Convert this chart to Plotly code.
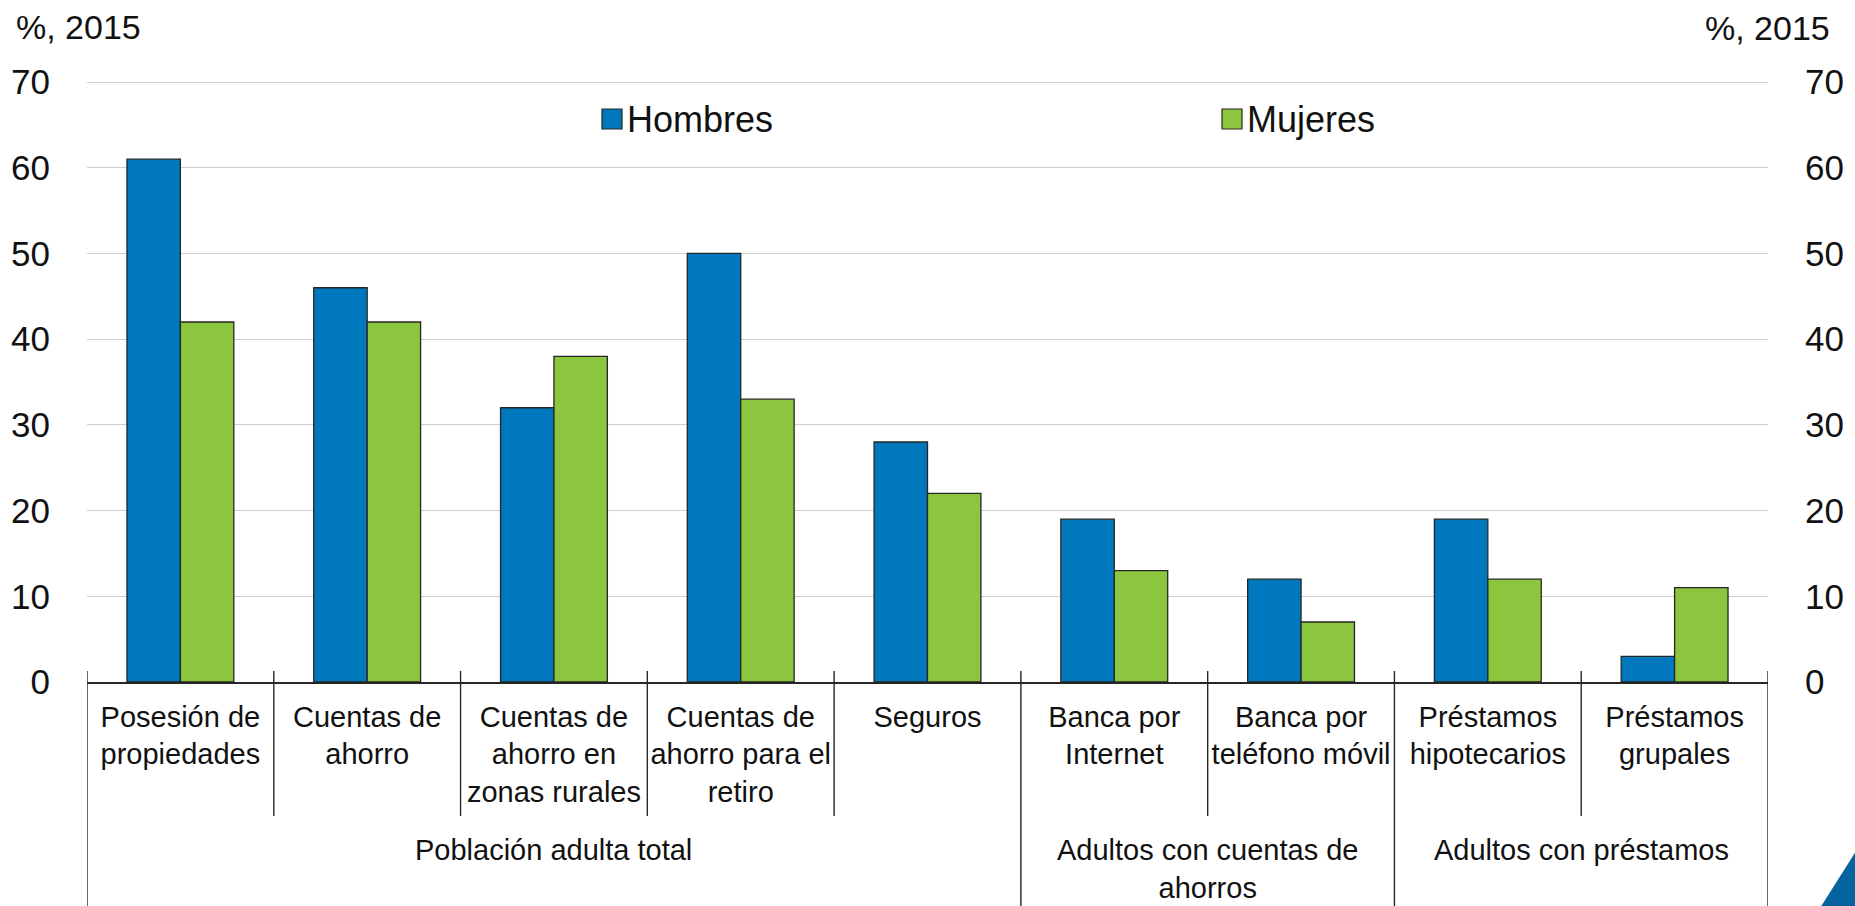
import plotly.graph_objects as go

# ---------------- data ----------------
categories = ["Posesión de propiedades", "Cuentas de ahorro",
              "Cuentas de ahorro en zonas rurales",
              "Cuentas de ahorro para el retiro", "Seguros",
              "Banca por Internet", "Banca por teléfono móvil",
              "Préstamos hipotecarios", "Préstamos grupales"]
tick_labels = ["Posesión de<br>propiedades", "Cuentas de<br>ahorro",
               "Cuentas de<br>ahorro en<br>zonas rurales",
               "Cuentas de<br>ahorro para el<br>retiro", "Seguros",
               "Banca por<br>Internet", "Banca por<br>teléfono móvil",
               "Préstamos<br>hipotecarios", "Préstamos<br>grupales"]
hombres = [61, 46, 32, 50, 28, 19, 12, 19, 3]
mujeres = [42, 42, 38, 33, 22, 13, 7, 12, 11]
series_names = ["Hombres", "Mujeres"]
group_labels = ["Población adulta total", "Adultos con cuentas de<br>ahorros",
                "Adultos con préstamos"]
group_spans = [(0, 4), (5, 6), (7, 8)]   # first / last category index in each group
y_ticks = [0, 10, 20, 30, 40, 50, 60, 70]
unit_label = "%, 2015"

# ---------------- style ----------------
W, H = 1855, 906
L, R, T, B = 87, 1768, 81, 682          # plot area in pixels
FONT = "Liberation Sans, Arial, sans-serif"
BLUE, GREEN, DARK = "#0078BE", "#8CC63F", "#262626"
TXT = "#111111"


def px(xp):
    return (xp - L) / (R - L)


def py(yp):
    return (B - yp) / (B - T)


fig = go.Figure()
for name, vals, col in [(series_names[0], hombres, BLUE), (series_names[1], mujeres, GREEN)]:
    fig.add_trace(go.Bar(x=categories, y=vals, name=name, marker_color=col,
                         marker_line_color=DARK, marker_line_width=1.3,
                         showlegend=False))
# invisible trace to carry the right-hand axis
fig.add_trace(go.Scatter(x=categories, y=hombres, yaxis="y2", mode="markers",
                         marker=dict(opacity=0), hoverinfo="skip", showlegend=False))

shapes = []
# category separators / tick marks
n = len(categories)
group_edges = {g[0] for g in group_spans} | {n}
for k in range(n + 1):
    bottom = H + 5 if k in group_edges else 816
    shapes.append(dict(type="line", xref="x", yref="paper", x0=k - 0.5, x1=k - 0.5,
                       y0=py(B - 11), y1=py(bottom), line=dict(color=DARK, width=1.4)))

# manual legend squares
legend_pos = [602, 1222]
for xp, col in zip(legend_pos, [BLUE, GREEN]):
    shapes.append(dict(type="rect", xref="paper", yref="paper",
                       x0=px(xp), x1=px(xp + 20), y0=py(129), y1=py(109),
                       fillcolor=col, line=dict(color=DARK, width=1.2)))

# decorative corner triangle
shapes.append(dict(type="path", xref="paper", yref="paper",
                   path=f"M {px(1820)} {py(908)} L {px(1858)} {py(848)} L {px(1858)} {py(908)} Z",
                   fillcolor="#05639E", line=dict(width=0)))

annotations = []
for xp, name in zip(legend_pos, series_names):
    annotations.append(dict(xref="paper", yref="paper", x=px(xp + 23), y=py(119),
                            xanchor="left", yanchor="middle", text=name, showarrow=False,
                            font=dict(family=FONT, size=36, color=TXT)))
for (a, b), lab in zip(group_spans, group_labels):
    annotations.append(dict(xref="x", yref="paper", x=(a + b) / 2, y=py(832),
                            xanchor="center", yanchor="top", text=lab, showarrow=False,
                            font=dict(family=FONT, size=29, color=TXT)))
annotations.append(dict(xref="paper", yref="paper", x=px(14), y=py(27), xanchor="left",
                        yanchor="middle", text=unit_label, showarrow=False,
                        font=dict(family=FONT, size=34, color=TXT)))
annotations.append(dict(xref="paper", yref="paper", x=px(1832), y=py(28), xanchor="right",
                        yanchor="middle", text=unit_label, showarrow=False,
                        font=dict(family=FONT, size=34, color=TXT)))

fig.update_layout(
    width=W, height=H,
    margin=dict(l=L, r=W - R, t=T, b=H - B, pad=0),
    paper_bgcolor="white", plot_bgcolor="white",
    barmode="group", bargap=0.428, bargroupgap=0,
    font=dict(family=FONT, color=TXT),
    xaxis=dict(type="category", range=[-0.5, n - 0.5], tickmode="array",
               tickvals=categories, ticktext=tick_labels, ticks="",
               tickfont=dict(family=FONT, size=29, color=TXT),
               ticklabelstandoff=8, showline=True, linecolor=DARK, linewidth=1.5,
               showgrid=False, zeroline=False, tickangle=0, automargin=False),
    yaxis=dict(range=[0, 70.12], tickvals=y_ticks, showgrid=True, gridcolor="#CFCFCF",
               gridwidth=1.3, zeroline=False, showline=False, ticks="",
               tickfont=dict(family=FONT, size=35, color=TXT),
               ticklabelstandoff=36, automargin=False),
    yaxis2=dict(range=[0, 70.12], tickvals=y_ticks, overlaying="y", side="right",
                showgrid=False, zeroline=False, showline=False, ticks="",
                tickfont=dict(family=FONT, size=35, color=TXT),
                ticklabelstandoff=36, automargin=False),
    shapes=shapes, annotations=annotations,
)

fig.write_html("out.html", config={"displayModeBar": False},
               post_script="document.body.style.margin='0';document.body.style.overflow='hidden';")
